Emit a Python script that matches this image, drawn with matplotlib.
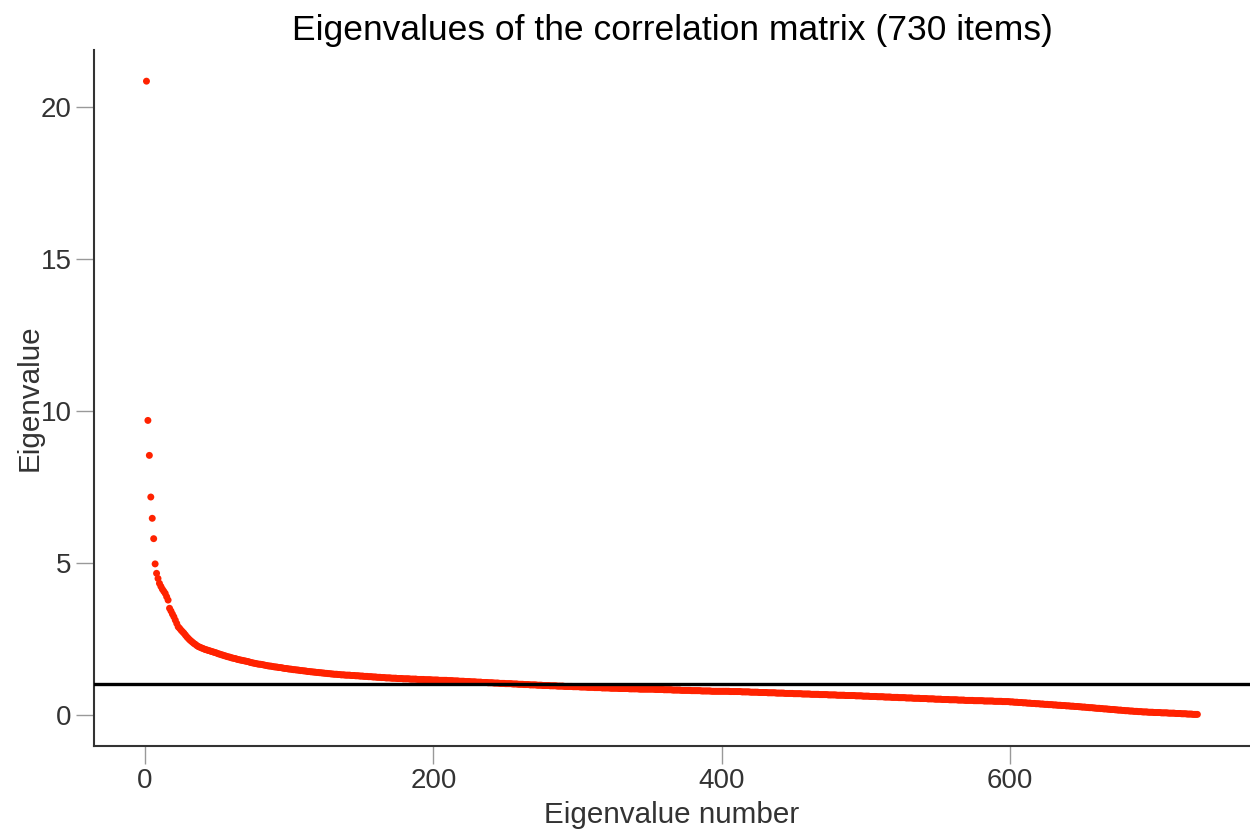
import numpy as np
import matplotlib
matplotlib.use("Agg")
import matplotlib.pyplot as plt

plt.rcParams['font.family'] = ['Liberation Sans', 'DejaVu Sans']

# eigenvalues, largest first (730 items, 10 per row)
eigenvalues = [
    20.84, 9.68, 8.53, 7.16, 6.46, 5.79, 4.96, 4.65, 4.48, 4.32,
    4.22, 4.13, 4.06, 3.99, 3.88, 3.77, 3.50, 3.41, 3.31, 3.22,
    3.11, 3.00, 2.89, 2.84, 2.78, 2.73, 2.68, 2.62, 2.56, 2.51,
    2.46, 2.42, 2.38, 2.34, 2.31, 2.27, 2.24, 2.22, 2.20, 2.18,
    2.16, 2.14, 2.13, 2.11, 2.10, 2.08, 2.07, 2.05, 2.04, 2.02,
    2.00, 1.99, 1.97, 1.96, 1.94, 1.93, 1.91, 1.90, 1.89, 1.87,
    1.86, 1.85, 1.84, 1.82, 1.81, 1.80, 1.79, 1.78, 1.77, 1.76,
    1.75, 1.74, 1.72, 1.71, 1.70, 1.69, 1.68, 1.67, 1.66, 1.66,
    1.65, 1.64, 1.63, 1.62, 1.61, 1.60, 1.60, 1.59, 1.58, 1.57,
    1.57, 1.56, 1.55, 1.55, 1.54, 1.53, 1.52, 1.52, 1.51, 1.50,
    1.50, 1.49, 1.48, 1.48, 1.47, 1.47, 1.46, 1.45, 1.45, 1.44,
    1.44, 1.43, 1.42, 1.42, 1.41, 1.41, 1.40, 1.40, 1.39, 1.39,
    1.38, 1.38, 1.37, 1.37, 1.36, 1.36, 1.35, 1.35, 1.34, 1.34,
    1.33, 1.33, 1.33, 1.32, 1.32, 1.31, 1.31, 1.31, 1.30, 1.30,
    1.30, 1.30, 1.29, 1.29, 1.29, 1.28, 1.28, 1.28, 1.27, 1.27,
    1.27, 1.26, 1.26, 1.26, 1.25, 1.25, 1.25, 1.24, 1.24, 1.24,
    1.23, 1.23, 1.23, 1.22, 1.22, 1.22, 1.21, 1.21, 1.21, 1.21,
    1.20, 1.20, 1.20, 1.20, 1.19, 1.19, 1.19, 1.19, 1.18, 1.18,
    1.18, 1.18, 1.18, 1.17, 1.17, 1.17, 1.17, 1.17, 1.16, 1.16,
    1.16, 1.16, 1.16, 1.15, 1.15, 1.15, 1.15, 1.15, 1.14, 1.14,
    1.14, 1.14, 1.14, 1.13, 1.13, 1.13, 1.13, 1.13, 1.13, 1.12,
    1.12, 1.12, 1.12, 1.11, 1.11, 1.11, 1.11, 1.10, 1.10, 1.10,
    1.10, 1.09, 1.09, 1.09, 1.09, 1.08, 1.08, 1.08, 1.08, 1.07,
    1.07, 1.07, 1.07, 1.06, 1.06, 1.06, 1.06, 1.05, 1.05, 1.05,
    1.05, 1.04, 1.04, 1.04, 1.04, 1.03, 1.03, 1.03, 1.03, 1.02,
    1.02, 1.02, 1.02, 1.02, 1.01, 1.01, 1.01, 1.01, 1.00, 1.00,
    1.00, 1.00, 0.99, 0.99, 0.99, 0.99, 0.98, 0.98, 0.98, 0.98,
    0.98, 0.97, 0.97, 0.97, 0.97, 0.96, 0.96, 0.96, 0.96, 0.96,
    0.95, 0.95, 0.95, 0.95, 0.95, 0.94, 0.94, 0.94, 0.94, 0.94,
    0.93, 0.93, 0.93, 0.93, 0.93, 0.93, 0.92, 0.92, 0.92, 0.92,
    0.92, 0.91, 0.91, 0.91, 0.91, 0.91, 0.90, 0.90, 0.90, 0.90,
    0.90, 0.89, 0.89, 0.89, 0.89, 0.89, 0.88, 0.88, 0.88, 0.88,
    0.88, 0.88, 0.87, 0.87, 0.87, 0.87, 0.87, 0.87, 0.86, 0.86,
    0.86, 0.86, 0.86, 0.86, 0.86, 0.85, 0.85, 0.85, 0.85, 0.85,
    0.85, 0.85, 0.84, 0.84, 0.84, 0.84, 0.84, 0.84, 0.84, 0.84,
    0.84, 0.84, 0.84, 0.83, 0.83, 0.83, 0.83, 0.83, 0.83, 0.82,
    0.82, 0.82, 0.82, 0.82, 0.82, 0.81, 0.81, 0.81, 0.81, 0.81,
    0.81, 0.80, 0.80, 0.80, 0.80, 0.80, 0.80, 0.80, 0.79, 0.79,
    0.79, 0.79, 0.79, 0.79, 0.79, 0.78, 0.78, 0.78, 0.78, 0.78,
    0.78, 0.78, 0.77, 0.77, 0.77, 0.77, 0.77, 0.77, 0.77, 0.77,
    0.77, 0.77, 0.77, 0.77, 0.77, 0.76, 0.76, 0.76, 0.76, 0.76,
    0.76, 0.76, 0.76, 0.75, 0.75, 0.75, 0.75, 0.75, 0.75, 0.74,
    0.74, 0.74, 0.74, 0.74, 0.74, 0.73, 0.73, 0.73, 0.73, 0.73,
    0.73, 0.72, 0.72, 0.72, 0.72, 0.72, 0.72, 0.71, 0.71, 0.71,
    0.71, 0.71, 0.71, 0.70, 0.70, 0.70, 0.70, 0.70, 0.70, 0.69,
    0.69, 0.69, 0.69, 0.69, 0.69, 0.68, 0.68, 0.68, 0.68, 0.68,
    0.68, 0.67, 0.67, 0.67, 0.67, 0.67, 0.67, 0.66, 0.66, 0.66,
    0.66, 0.66, 0.66, 0.65, 0.65, 0.65, 0.65, 0.65, 0.65, 0.64,
    0.64, 0.64, 0.64, 0.64, 0.64, 0.63, 0.63, 0.63, 0.63, 0.63,
    0.63, 0.63, 0.62, 0.62, 0.62, 0.62, 0.62, 0.61, 0.61, 0.61,
    0.61, 0.61, 0.60, 0.60, 0.60, 0.60, 0.60, 0.59, 0.59, 0.59,
    0.59, 0.59, 0.58, 0.58, 0.58, 0.58, 0.58, 0.57, 0.57, 0.57,
    0.57, 0.57, 0.56, 0.56, 0.56, 0.56, 0.56, 0.55, 0.55, 0.55,
    0.55, 0.55, 0.54, 0.54, 0.54, 0.54, 0.54, 0.53, 0.53, 0.53,
    0.53, 0.53, 0.52, 0.52, 0.52, 0.52, 0.52, 0.51, 0.51, 0.51,
    0.51, 0.51, 0.50, 0.50, 0.50, 0.50, 0.50, 0.49, 0.49, 0.49,
    0.49, 0.49, 0.49, 0.48, 0.48, 0.48, 0.48, 0.48, 0.47, 0.47,
    0.47, 0.47, 0.47, 0.47, 0.46, 0.46, 0.46, 0.46, 0.46, 0.46,
    0.46, 0.45, 0.45, 0.45, 0.45, 0.45, 0.45, 0.45, 0.44, 0.44,
    0.44, 0.44, 0.44, 0.44, 0.43, 0.43, 0.43, 0.43, 0.43, 0.42,
    0.42, 0.42, 0.41, 0.41, 0.41, 0.40, 0.40, 0.40, 0.39, 0.39,
    0.39, 0.38, 0.38, 0.38, 0.37, 0.37, 0.37, 0.36, 0.36, 0.36,
    0.35, 0.35, 0.35, 0.34, 0.34, 0.34, 0.33, 0.33, 0.33, 0.32,
    0.32, 0.32, 0.31, 0.31, 0.31, 0.30, 0.30, 0.30, 0.29, 0.29,
    0.29, 0.28, 0.28, 0.28, 0.27, 0.27, 0.27, 0.26, 0.26, 0.25,
    0.25, 0.25, 0.24, 0.24, 0.23, 0.23, 0.23, 0.22, 0.22, 0.21,
    0.21, 0.21, 0.20, 0.20, 0.19, 0.19, 0.19, 0.18, 0.18, 0.17,
    0.17, 0.17, 0.16, 0.16, 0.15, 0.15, 0.15, 0.14, 0.14, 0.13,
    0.13, 0.13, 0.12, 0.12, 0.12, 0.11, 0.11, 0.11, 0.10, 0.10,
    0.10, 0.09, 0.09, 0.09, 0.09, 0.08, 0.08, 0.08, 0.08, 0.07,
    0.07, 0.07, 0.07, 0.07, 0.06, 0.06, 0.06, 0.06, 0.06, 0.05,
    0.05, 0.05, 0.05, 0.05, 0.04, 0.04, 0.04, 0.04, 0.03, 0.03,
    0.03, 0.03, 0.02, 0.02, 0.02, 0.02, 0.01, 0.01, 0.01, 0.01,
]
eig_number = np.arange(1, len(eigenvalues) + 1)
kaiser_cut = 1.0

x_ticks = [0, 200, 400, 600]
y_ticks = [0, 5, 10, 15, 20]

fig = plt.figure(figsize=(12.5, 8.31), dpi=100)
ax = fig.add_axes([0.0752, 0.1023, 0.9248, 0.8377])

ax.scatter(eig_number, eigenvalues, s=25, color='#FF2200', edgecolors='none', zorder=2)
ax.axhline(kaiser_cut, color='black', linewidth=2.4, zorder=3)

ax.set_xlim(-35.4, 766.5)
ax.set_ylim(-1.03, 21.87)
ax.set_xticks(x_ticks)
ax.set_yticks(y_ticks)

for side in ['top', 'right']:
    ax.spines[side].set_visible(False)
for side in ['left', 'bottom']:
    ax.spines[side].set_color('#333333')
    ax.spines[side].set_linewidth(1.5)

ax.tick_params(axis='both', length=13, width=1, color='#999999',
               labelsize=20, labelcolor='#333333', pad=3)

ax.set_title('Eigenvalues of the correlation matrix (730 items)', fontsize=25.5, pad=7)
ax.set_xlabel('Eigenvalue number', fontsize=21.3, color='#333333', labelpad=5)
ax.set_ylabel('Eigenvalue', fontsize=21.3, color='#333333', labelpad=-2)

plt.savefig('out.png', dpi=100)
